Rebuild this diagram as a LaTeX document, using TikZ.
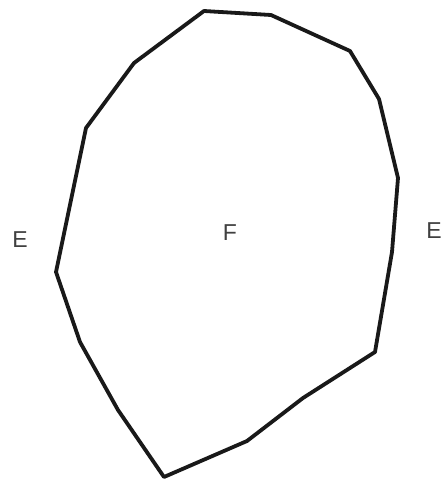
\documentclass[tikz,border=0pt]{standalone}
\usepackage{fontspec}
\setmainfont{Liberation Sans}
\usepackage{tikz}

\begin{document}
\begin{tikzpicture}[x=1pt,y=-1pt,
  region/.style={text=black!75, font=\fontsize{23}{25}\selectfont}]
\useasboundingbox (0,0) rectangle (446,479);
% face F bounded by a closed polygon
\draw[line width=3.8pt, line join=round, black!90]
  (204,11) -- (271,15) -- (350,51) -- (379,99) -- (398,178) -- (392,252)
  -- (375,352) -- (303,398) -- (247,441) -- (164,477) -- (118,410)
  -- (80,342) -- (56,272) -- (86,128) -- (134,63) -- cycle;
\node[region] (faceF) at (230,233) {F};
\node[region] (extL) at (20,240) {E};
\node[region] (extR) at (434,231) {E};
\end{tikzpicture}
\end{document}
